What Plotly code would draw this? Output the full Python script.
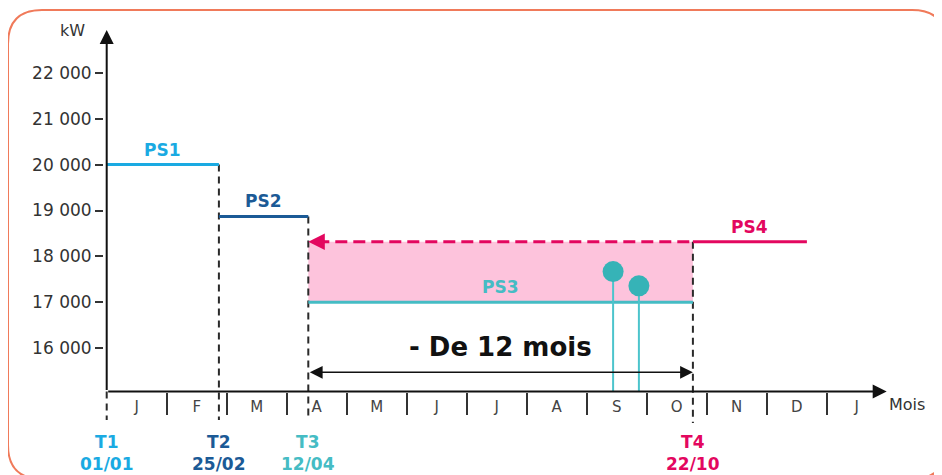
import plotly.graph_objects as go

# ---------------- data ----------------
MONTH_LABELS = ["J", "F", "M", "A", "M", "J", "J", "A", "S", "O", "N", "D", "J"]
MONTH_BOUNDS = [1, 2, 3, 4, 5, 6, 7, 8, 9, 10, 11, 12]
MONTH_CENTERS = [0.5, 1.5, 2.5, 3.5, 4.5, 5.5, 6.5, 7.5, 8.5, 9.5, 10.5, 11.5, 12.5]

Y_TICKS = [16000, 17000, 18000, 19000, 20000, 21000, 22000]
Y_TICK_TEXT = ["16 000", "17 000", "18 000", "19 000", "20 000", "21 000", "22 000"]

T_NAMES = ["T1", "T2", "T3", "T4"]
T_DATES = ["01/01", "25/02", "12/04", "22/10"]
T_POS = [0.0, 1.87, 3.36, 9.77]          # position in months from 1 Jan

PS_NAMES = ["PS1", "PS2", "PS3", "PS4"]
PS_START = [0.0, 1.87, 3.36, 9.77]
PS_END = [1.87, 3.36, 9.77, 11.67]
PS_VALUES = [20000, 18870, 17000, 18320]

PEAK_X = [8.44, 8.87]
PEAK_Y = [17670, 17360]

COLORS = ["#1aaae2", "#1b5a96", "#45bcc4", "#e3075f"]
PEAK_COLOR = "#36b3b7"
STEM_COLOR = "#4cc4cc"
FILL_COLOR = "#fdc3dc"
FRAME_COLOR = "#f07a5a"

# ---------------- geometry ----------------
# the page body has an 8px margin: the figure starts at (8, 8) in the window
OFF = 8
W, H = 942 - OFF, 475 - OFF
PX_X0 = 106.7 - OFF          # pixel of month 0 inside the figure
PX_PER_MONTH = 60.0
PX_Y16 = 348.3 - OFF         # pixel of 16 000 kW inside the figure
PX_PER_KW = 0.045933

X_RANGE = [-PX_X0 / PX_PER_MONTH, (W - PX_X0) / PX_PER_MONTH]
Y_RANGE = [16000 - (H - PX_Y16) / PX_PER_KW, 16000 + PX_Y16 / PX_PER_KW]

Y_BASE = 15060          # value of the horizontal axis line
Y_TOP = 22930           # tip of the vertical arrow
X_END = 13.0            # tip of the horizontal arrow
Y_DASH_BOTTOM = 14439
Y_T_LABEL = 13720
Y_SPAN_ARROW = 15477
Y_SPAN_TEXT = 16035

FONT = "DejaVu Sans"


def fx(px):
    return (px - OFF) / W


def fy(py):
    return 1 - (py - OFF) / H


fig = go.Figure()

# pink zone between PS3 and PS4
fig.add_trace(go.Scatter(
    x=[PS_START[2], PS_END[2], PS_END[2], PS_START[2], PS_START[2]],
    y=[PS_VALUES[2], PS_VALUES[2], PS_VALUES[3], PS_VALUES[3], PS_VALUES[2]],
    mode="lines", fill="toself", fillcolor=FILL_COLOR,
    line=dict(width=0, color=FILL_COLOR), hoverinfo="skip", showlegend=False))

# vertical dashed T lines
t_tops = [Y_BASE, PS_VALUES[0], PS_VALUES[1], PS_VALUES[3]]
t_bottoms = [Y_DASH_BOTTOM, Y_DASH_BOTTOM, Y_DASH_BOTTOM, Y_DASH_BOTTOM - 65]
for xp, top, bot in zip(T_POS, t_tops, t_bottoms):
    fig.add_trace(go.Scatter(
        x=[xp, xp], y=[top, bot], mode="lines",
        line=dict(color="#2a2a2a", width=2, dash="7px,5px"),
        hoverinfo="skip", showlegend=False))

# PS4 dashed projection back to T3
fig.add_trace(go.Scatter(
    x=[PS_START[2] + 0.15, PS_START[3]], y=[PS_VALUES[3], PS_VALUES[3]],
    mode="lines", line=dict(color=COLORS[3], width=3, dash="12px,6px"),
    hoverinfo="skip", showlegend=False))

# PS segments
for i in range(4):
    fig.add_trace(go.Scatter(
        x=[PS_START[i], PS_END[i]], y=[PS_VALUES[i], PS_VALUES[i]],
        mode="lines", line=dict(color=COLORS[i], width=3),
        hoverinfo="skip", showlegend=False, name=PS_NAMES[i]))

# peaks (lollipops)
for px_, py_ in zip(PEAK_X, PEAK_Y):
    fig.add_trace(go.Scatter(
        x=[px_, px_], y=[Y_BASE, py_], mode="lines",
        line=dict(color=STEM_COLOR, width=2),
        hoverinfo="skip", showlegend=False))
fig.add_trace(go.Scatter(
    x=PEAK_X, y=PEAK_Y, mode="markers",
    marker=dict(size=21, color=PEAK_COLOR, line=dict(width=0)),
    hoverinfo="skip", showlegend=False))

annotations = []

# axis arrows
annotations.append(dict(x=X_END, y=Y_BASE, ax=0, ay=Y_BASE, xref="x", yref="y",
                        axref="x", ayref="y", text="", showarrow=True,
                        arrowhead=2, arrowsize=1.4, arrowwidth=2, arrowcolor="#111"))
annotations.append(dict(x=0, y=Y_TOP, ax=0, ay=Y_BASE, xref="x", yref="y",
                        axref="x", ayref="y", text="", showarrow=True,
                        arrowhead=2, arrowsize=1.4, arrowwidth=2, arrowcolor="#111"))

# PS4 arrow head at T3
annotations.append(dict(x=PS_START[2], y=PS_VALUES[3], ax=PS_START[2] + 0.3, ay=PS_VALUES[3],
                        xref="x", yref="y", axref="x", ayref="y", text="", showarrow=True,
                        arrowhead=2, arrowsize=1.1, arrowwidth=3, arrowcolor=COLORS[3]))

# span double arrow
annotations.append(dict(x=T_POS[3], y=Y_SPAN_ARROW, ax=T_POS[2], ay=Y_SPAN_ARROW,
                        xref="x", yref="y", axref="x", ayref="y", text="", showarrow=True,
                        arrowhead=2, arrowsize=1.6, arrowwidth=1.6, arrowside="end+start",
                        arrowcolor="#111"))
annotations.append(dict(x=(T_POS[2] + T_POS[3]) / 2, y=Y_SPAN_TEXT, xref="x", yref="y",
                        text="<b>- De 12 mois</b>", showarrow=False,
                        xanchor="center", yanchor="middle",
                        font=dict(family=FONT, size=26, color="#111")))

# PS labels
for i in range(4):
    annotations.append(dict(x=(PS_START[i] + PS_END[i]) / 2, y=PS_VALUES[i],
                            xref="x", yref="y", text="<b>%s</b>" % PS_NAMES[i],
                            showarrow=False, xanchor="center", yanchor="middle", yshift=15,
                            font=dict(family=FONT, size=17, color=COLORS[i])))

# T labels
for i in range(4):
    annotations.append(dict(x=T_POS[i], y=Y_T_LABEL, xref="x", yref="y",
                            text="<b>%s</b><br><b>%s</b>" % (T_NAMES[i], T_DATES[i]),
                            showarrow=False, align="center", xanchor="center", yanchor="middle",
                            font=dict(family=FONT, size=17, color=COLORS[i])))

# axis titles
annotations.append(dict(x=fx(72.7), y=fy(30), xref="paper", yref="paper", text="kW",
                        showarrow=False, xanchor="center", yanchor="middle",
                        font=dict(family=FONT, size=16, color="#333")))
annotations.append(dict(x=fx(907), y=fy(404), xref="paper", yref="paper", text="Mois",
                        showarrow=False, xanchor="center", yanchor="middle",
                        font=dict(family=FONT, size=16, color="#333")))


# rounded frame
def P(x, y):
    return "%.5f,%.5f" % (fx(x), fy(y))


L_, T_, R_, B_, r = 8, 10, 946, 479, 34
path = ("M" + P(L_, T_ + r) + " Q" + P(L_, T_) + " " + P(L_ + r, T_) +
        " L" + P(R_ - r, T_) + " Q" + P(R_, T_) + " " + P(R_, T_ + r) +
        " L" + P(R_, B_ - r) + " Q" + P(R_, B_) + " " + P(R_ - r, B_) +
        " L" + P(L_ + r, B_) + " Q" + P(L_, B_) + " " + P(L_, B_ - r) + " Z")

fig.update_layout(
    template="none",
    width=W, height=H, autosize=False,
    margin=dict(l=0, r=0, t=0, b=0, pad=0),
    paper_bgcolor="white", plot_bgcolor="white",
    showlegend=False, hovermode=False,
    shapes=[dict(type="path", path=path, xref="paper", yref="paper",
                 line=dict(color=FRAME_COLOR, width=2), layer="below")],
    annotations=annotations,
    xaxis=dict(range=X_RANGE, domain=[0, 1], anchor="free", position=fy(391.5),
               showgrid=False, zeroline=False, showline=False,
               tickmode="array", tickvals=MONTH_BOUNDS, ticks="outside", ticklen=22,
               tickwidth=2, tickcolor="#333", showticklabels=False, automargin=False,
               fixedrange=True),
    xaxis2=dict(range=X_RANGE, overlaying="x", anchor="free", position=fy(391.5),
                showgrid=False, zeroline=False, showline=False,
                tickmode="array", tickvals=MONTH_CENTERS, ticktext=MONTH_LABELS,
                ticks="outside", ticklen=1, tickcolor="rgba(0,0,0,0)",
                tickfont=dict(family=FONT, size=15, color="#444"), automargin=False,
                fixedrange=True),
    yaxis=dict(range=Y_RANGE, domain=[0, 1], anchor="free", position=fx(103),
               showgrid=False, zeroline=False, showline=False,
               tickmode="array", tickvals=Y_TICKS, ticktext=Y_TICK_TEXT,
               ticks="outside", ticklen=8, tickwidth=2, tickcolor="#333",
               tickfont=dict(family=FONT, size=17, color="#333"), automargin=False,
               fixedrange=True),
)

# invisible trace to activate xaxis2
fig.add_trace(go.Scatter(x=[MONTH_CENTERS[0]], y=[Y_BASE], xaxis="x2", mode="markers",
                         marker=dict(size=0.1, opacity=0), hoverinfo="skip", showlegend=False))

fig.write_html("out.html", config={"displayModeBar": False})
